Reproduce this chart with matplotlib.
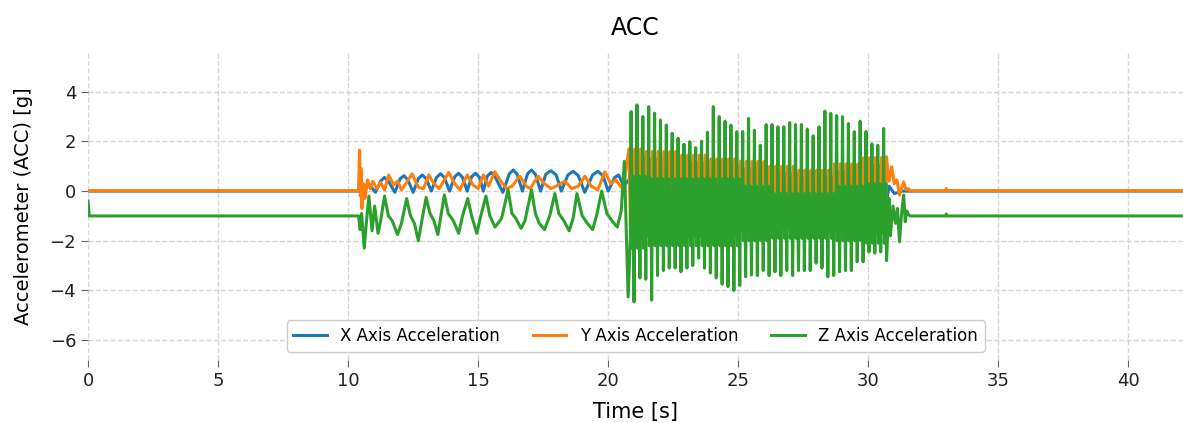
import numpy as np
import matplotlib
matplotlib.use('Agg')
import matplotlib.pyplot as plt

# ---- data ----
# quiet parts (standing still) at start and end
rest_end = 10.40
move_end = 31.60
t_end = 42.1
x_rest = 0.0
y_rest = 0.02
z_rest = -1.0

# walking phase, vertices (time [s], value [g])
x_walk_t = [10.45, 10.60, 10.75, 11.05, 11.25, 11.40, 11.55, 11.80, 12.00, 12.15, 12.30, 12.50,
            12.70, 12.85, 13.00, 13.20, 13.40, 13.55, 13.70, 13.90, 14.10, 14.25, 14.40, 14.58,
            14.75, 14.90, 15.05, 15.20, 15.35, 15.50, 15.65, 15.95, 16.20, 16.35, 16.50, 16.70,
            16.90, 17.05, 17.20, 17.40, 17.60, 17.80, 18.00, 18.20, 18.45, 18.65, 18.85, 19.10,
            19.40, 19.60, 19.80, 20.00, 20.25, 20.40, 20.60]
x_walk_v = [0.00, -0.20, 0.35, -0.05, 0.40, 0.55, 0.40, -0.05, 0.50, 0.62, 0.45, -0.05,
            0.50, 0.65, 0.50, 0.00, 0.55, 0.70, 0.55, 0.00, 0.58, 0.72, 0.55, 0.00,
            0.58, 0.72, 0.55, 0.00, 0.60, 0.75, 0.58, -0.05, 0.70, 0.85, 0.68, 0.00,
            0.70, 0.85, 0.68, 0.00, 0.68, 0.82, 0.65, 0.00, 0.65, 0.80, 0.62, -0.05,
            0.65, 0.80, 0.62, 0.00, 0.55, 0.65, 0.20]

y_walk_t = [10.44, 10.47, 10.50, 10.53, 10.58, 10.65, 10.75, 10.85, 10.95, 11.10, 11.25, 11.40,
            11.56, 11.75, 11.90, 12.05, 12.25, 12.46, 12.70, 12.90, 13.10, 13.30, 13.50, 13.87,
            14.10, 14.30, 14.58, 14.80, 15.00, 15.20, 15.40, 15.64, 15.90, 16.10, 16.30, 16.60,
            16.85, 17.00, 17.30, 17.55, 17.80, 18.00, 18.33, 18.60, 18.85, 19.10, 19.35, 19.60,
            19.87, 20.10, 20.30, 20.50, 20.60]
y_walk_v = [1.65, -0.20, 0.90, -0.70, 0.30, -0.30, 0.45, 0.10, 0.40, 0.10, 0.35, 0.05,
            0.65, 0.25, 0.40, 0.05, 0.35, 0.70, 0.15, 0.10, 0.65, 0.30, 0.10, 0.75,
            0.30, 0.05, 0.65, 0.25, 0.10, 0.65, 0.20, 0.78, 0.35, 0.10, 0.20, 0.60,
            0.20, 0.10, 0.60, 0.30, 0.10, 0.20, 0.40, 0.10, 0.20, 0.60, 0.20, 0.05,
            0.78, 0.30, 0.45, 0.15, 0.30]

z_walk_t = [10.46, 10.52, 10.62, 10.70, 10.80, 10.92, 11.02, 11.15, 11.25, 11.40, 11.55, 11.70,
            11.90, 12.05, 12.25, 12.40, 12.55, 12.70, 12.85, 13.00, 13.15, 13.30, 13.45, 13.55,
            13.70, 13.85, 14.05, 14.25, 14.40, 14.60, 14.75, 14.95, 15.10, 15.30, 15.45, 15.65,
            15.90, 16.15, 16.30, 16.45, 16.65, 16.80, 17.05, 17.20, 17.35, 17.55, 17.75, 17.95,
            18.10, 18.30, 18.50, 18.65, 18.80, 19.00, 19.20, 19.40, 19.55, 19.75, 19.95, 20.15,
            20.35, 20.50, 20.62]
z_walk_v = [-1.55, -0.90, -2.30, -1.30, -0.20, -1.60, -0.60, -1.70, -1.20, -0.20, -1.00, -1.20,
            -1.75, -1.30, -0.30, -1.00, -1.30, -2.00, -1.10, -0.25, -0.90, -1.20, -1.75, -1.10,
            -0.15, -0.90, -1.20, -1.70, -1.00, -0.30, -1.00, -1.70, -1.00, -0.20, -1.00, -1.45,
            -1.10, 0.05, -0.90, -1.10, -1.50, -1.20, 0.05, -0.90, -1.30, -1.55, -1.00, -0.10,
            -0.90, -1.20, -1.60, -1.10, -0.10, -1.00, -1.30, -1.55, -1.00, 0.00, -0.90, -1.20,
            -1.45, -0.80, 1.20]

# running phase: one big Z stroke per step
run_first_peak = 20.88
run_last_peak = 30.59
z_peaks = [3.20, 3.47, 3.00, 3.40, 3.14, 2.86, 2.66, 2.33, 2.13, 1.89, 1.99,
           1.75, 2.01, 2.37, 3.40, 3.00, 2.82, 2.66, 2.39, 2.40, 2.93, 2.45,
           1.85, 2.68, 2.68, 2.59, 2.59, 2.76, 2.68, 2.68, 2.50, 2.23, 2.59,
           3.22, 3.13, 3.04, 3.00, 2.72, 2.39, 2.82, 2.40, 1.90, 1.85, 2.52]
z_troughs = [-4.26, -4.46, -3.50, -3.55, -4.39, -3.40, -3.20, -3.10, -3.10, -3.25, -3.10,
             -3.00, -2.70, -3.10, -3.30, -3.50, -3.75, -3.85, -4.00, -3.80, -3.45, -3.38,
             -3.40, -3.20, -3.40, -3.25, -3.40, -3.20, -3.40, -3.20, -3.20, -3.20, -2.90,
             -3.10, -3.45, -3.40, -3.25, -3.20, -3.20, -2.85, -2.85, -2.45, -2.50, -2.45,
             -2.80]
# steps per block and the band each signal fills inside that block
block_steps = [3, 6, 5, 5, 5, 5, 6, 5, 4]
z_band_hi = [0.6, 0.5, 0.5, 0.5, 0.2, -0.1, -0.1, 0.2, 0.3]
z_band_lo = [-2.3, -2.2, -2.2, -2.2, -2.0, -1.9, -1.9, -2.0, -2.1]
y_band_hi = [1.7, 1.6, 1.45, 1.3, 1.2, 1.0, 0.85, 1.1, 1.35]
y_band_lo = [-1.4, -1.3, -1.3, -1.2, -1.2, -1.0, -1.0, -1.2, -1.3]
x_band_hi = [0.5, 0.5, 0.5, 0.5, 0.4, 0.05, 0.05, 0.3, 0.4]
x_band_lo = [-0.8, -0.8, -0.8, -0.8, -0.8, -0.6, -0.6, -0.8, -0.8]

# settling after the run
x_after_t = [30.80, 31.00, 31.30]
x_after_v = [0.20, -0.10, 0.00]
y_after_t = [30.70, 30.80, 30.90, 31.00, 31.10, 31.20, 31.36, 31.45, 31.55]
y_after_v = [1.38, 0.40, 0.98, 0.30, 0.45, -0.16, 0.37, 0.05, 0.10]
z_after_t = [30.80, 30.85, 30.95, 31.05, 31.12, 31.20, 31.28, 31.36, 31.42, 31.48, 31.55]
z_after_v = [-0.30, -1.80, -0.60, -1.30, -0.70, -2.04, -0.90, -0.16, -1.23, -0.80, -0.95]
blip_t = 33.0

# ---- build the series ----
n_steps = len(z_peaks)
peak_t = np.linspace(run_first_peak, run_last_peak, n_steps)
dt = peak_t[1] - peak_t[0]
zhi = np.repeat(z_band_hi, block_steps)
zlo = np.repeat(z_band_lo, block_steps)
yhi = np.repeat(y_band_hi, block_steps)
ylo = np.repeat(y_band_lo, block_steps)
xhi = np.repeat(x_band_hi, block_steps)
xlo = np.repeat(x_band_lo, block_steps)

z_run_t, z_run_v = [peak_t[0] - dt / 2], [z_troughs[0]]
y_run_t, y_run_v = [], []
x_run_t, x_run_v = [], []
for i in range(n_steps):
    t0 = peak_t[i]
    # big up/down stroke with a smaller wobble inside the band
    z_run_t += [t0 - 0.12 * dt, t0, t0 + 0.12 * dt, t0 + 0.38 * dt, t0 + 0.5 * dt]
    z_run_v += [zlo[i] + 0.4, z_peaks[i], zlo[i], zhi[i], z_troughs[i + 1]]
    if i < n_steps - 1:
        z_run_t += [t0 + 0.62 * dt]
        z_run_v += [zhi[i] - 0.5]
    y_run_t += [t0 - 0.375 * dt, t0 - 0.125 * dt, t0 + 0.125 * dt, t0 + 0.375 * dt]
    y_run_v += [yhi[i], ylo[i], yhi[i] - 0.3, ylo[i]]
    x_run_t += [t0 - 0.25 * dt, t0 + 0.25 * dt]
    x_run_v += [xhi[i], xlo[i]]

t_x = np.concatenate([[0, rest_end], x_walk_t, x_run_t, x_after_t, [move_end, t_end]])
v_x = np.concatenate([[x_rest, x_rest], x_walk_v, x_run_v, x_after_v, [x_rest, x_rest]])

t_y = np.concatenate([[0, rest_end], y_walk_t, y_run_t, y_after_t,
                      [move_end, blip_t - 0.02, blip_t, blip_t + 0.02, t_end]])
v_y = np.concatenate([[y_rest, y_rest], y_walk_v, y_run_v, y_after_v,
                      [y_rest, y_rest, y_rest + 0.08, y_rest, y_rest]])

t_z = np.concatenate([[0, 0.05, rest_end], z_walk_t, z_run_t, z_after_t,
                      [move_end, blip_t - 0.02, blip_t, blip_t + 0.02, t_end]])
v_z = np.concatenate([[-0.4, z_rest, z_rest], z_walk_v, z_run_v, z_after_v,
                      [z_rest, z_rest, z_rest + 0.08, z_rest, z_rest]])

# ---- plot ----
fig = plt.figure(figsize=(11.83, 4.23), dpi=100)
ax = fig.add_axes([0.0744, 0.149, 0.9256, 0.728])

ax.plot(t_x, v_x, color='#1f77b4', lw=2.2, label='X Axis Acceleration')
ax.plot(t_y, v_y, color='#ff7f0e', lw=2.2, label='Y Axis Acceleration')
ax.plot(t_z, v_z, color='#2ca02c', lw=2.2, label='Z Axis Acceleration')

ax.set_xlim(0, t_end)
ax.set_ylim(-6.8, 5.6)
ax.set_xticks(np.arange(0, 41, 5))
ax.set_yticks(np.arange(-6, 5, 2))
ax.grid(True, linestyle='--', color='#d5d5d5', lw=1)
ax.set_axisbelow(True)
for s in ax.spines.values():
    s.set_visible(False)
ax.tick_params(labelsize=13, length=5, color='#666666', labelcolor='#222222')

ax.set_title('ACC', fontsize=17, pad=12)
ax.set_xlabel('Time [s]', fontsize=15, labelpad=9)
ax.set_ylabel('Accelerometer (ACC) [g]', fontsize=14, labelpad=12)
ax.legend(loc='lower center', ncol=3, fontsize=12, columnspacing=2.0,
          borderaxespad=0.5, framealpha=1, edgecolor='#cccccc')

plt.savefig('out.png', dpi=100)
plt.close()
